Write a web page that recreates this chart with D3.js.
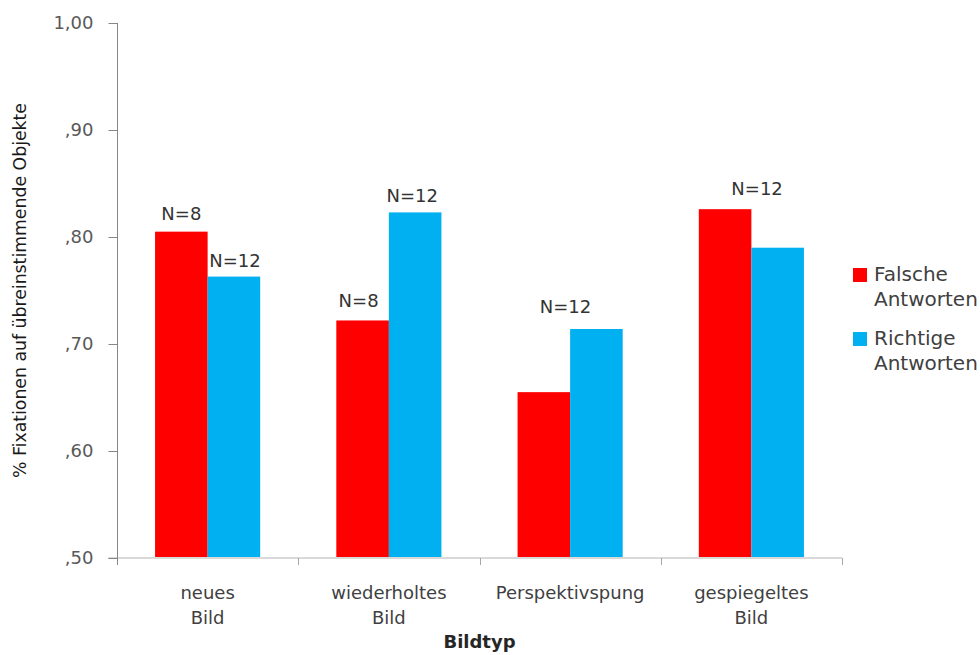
<!DOCTYPE html>
<html>
<head>
<meta charset="utf-8">
<script src="https://cdn.jsdelivr.net/npm/d3@7/dist/d3.min.js"></script>
<style>
  html, body { margin: 0; padding: 0; background: #fff; }
  svg { display: block; }
</style>
</head>
<body>
<svg id="chart" width="980" height="655"></svg>
<script>
// Bildtypen (Kategorien) und Mittelwerte je Antwortgruppe
const categories = ["neues Bild", "wiederholtes Bild", "Perspektivspung", "gespiegeltes Bild"];
const categoryLines = [["neues", "Bild"], ["wiederholtes", "Bild"], ["Perspektivspung"], ["gespiegeltes", "Bild"]];
const seriesNames = ["Falsche Antworten", "Richtige Antworten"];
const legendLines = [["Falsche", "Antworten"], ["Richtige", "Antworten"]];
const falscheValues = [0.805, 0.722, 0.655, 0.826];
const richtigeValues = [0.763, 0.823, 0.714, 0.790];
const yTicks = [0.5, 0.6, 0.7, 0.8, 0.9, 1.0];
const yTickLabels = [",50", ",60", ",70", ",80", ",90", "1,00"];
// Stichprobengrößen über den Balken
const nLabels = [
  { cat: "neues Bild", series: "Falsche Antworten", text: "N=8" },
  { cat: "neues Bild", series: "Richtige Antworten", text: "N=12" },
  { cat: "wiederholtes Bild", series: "Falsche Antworten", text: "N=8" },
  { cat: "wiederholtes Bild", series: "Richtige Antworten", text: "N=12" },
  { cat: "Perspektivspung", series: "Richtige Antworten", text: "N=12" },
  { cat: "gespiegeltes Bild", series: "Falsche Antworten", text: "N=12" }
];
const yTitle = "% Fixationen auf übreinstimmende Objekte";
const xTitle = "Bildtyp";

const colors = ["#ff0000", "#00b0f0"];
const seriesValues = [falscheValues, richtigeValues];
const rows = categories.map((c, i) => ({ cat: c, values: seriesNames.map((s, j) => ({ series: s, value: seriesValues[j][i], color: colors[j] })) }));

const svg = d3.select("#chart");
const font = "'DejaVu Sans', 'Liberation Sans', sans-serif";

const plotLeft = 117, plotRight = 842, plotTop = 23, plotBottom = 558;

const x0 = d3.scaleBand().domain(categories).range([plotLeft, plotRight]).paddingInner(0.42).paddingOuter(0.21);
const x1 = d3.scaleBand().domain(seriesNames).range([0, x0.bandwidth()]);
const y = d3.scaleLinear().domain([0.5, 1.0]).range([plotBottom, plotTop]);

// Balken
const groups = svg.append("g").selectAll("g").data(rows).join("g")
  .attr("transform", d => `translate(${x0(d.cat)},0)`);
groups.selectAll("rect").data(d => d.values).join("rect")
  .attr("x", d => x1(d.series))
  .attr("y", d => y(d.value))
  .attr("width", x1.bandwidth())
  .attr("height", d => y(0.5) - y(d.value))
  .attr("fill", d => d.color);

// Grundlinie und Kategorie-Trennstriche
svg.append("line").attr("x1", plotLeft - 9).attr("x2", plotRight).attr("y1", plotBottom).attr("y2", plotBottom)
  .attr("stroke", "#d9d9d9").attr("stroke-width", 2);
const step = x0.step();
d3.range(1, categories.length + 1).forEach(i => {
  const xx = Math.round(plotLeft + i * step) + 0.5;
  svg.append("line").attr("x1", xx).attr("x2", xx).attr("y1", plotBottom).attr("y2", plotBottom + 7)
    .attr("stroke", "#a6a6a6").attr("stroke-width", 1);
});

// Y-Achse
const yAxis = d3.axisLeft(y).tickValues(yTicks).tickFormat((d, i) => yTickLabels[i]).tickSize(9).tickPadding(15);
const yg = svg.append("g").attr("transform", `translate(${plotLeft + 0.5},0)`).call(yAxis);
yg.select(".domain").attr("stroke", "#868686").attr("d", `M0,${plotTop}V${plotBottom + 7}`);
yg.selectAll(".tick line").attr("stroke", "#868686");
yg.selectAll(".tick text").attr("font-family", font).attr("font-size", 18).attr("fill", "#595959");

// Kategorienbeschriftung
categoryLines.forEach((lines, i) => {
  const cx = x0(categories[i]) + x0.bandwidth() / 2;
  const t = svg.append("text").attr("text-anchor", "middle").attr("font-family", font)
    .attr("font-size", 18).attr("fill", "#404040");
  lines.forEach((ln, k) => t.append("tspan").attr("x", cx).attr("y", 599 + k * 25).text(ln));
});

// Achsentitel
svg.append("text").attr("x", (plotLeft + plotRight) / 2).attr("y", 648).attr("text-anchor", "middle")
  .attr("font-family", font).attr("font-size", 18).attr("font-weight", "bold").attr("fill", "#262626")
  .text(xTitle);
svg.append("text").attr("transform", "translate(26,290.5) rotate(-90)").attr("text-anchor", "middle")
  .attr("font-family", font).attr("font-size", 18).attr("fill", "#1a1a1a")
  .attr("textLength", 375).attr("lengthAdjust", "spacingAndGlyphs")
  .text(yTitle);

// N-Beschriftungen (leicht versetzt gegenüber der Balkenmitte)
const labelShift = [[0, -12], [1, -10], [-4, -13], [-3, -10], [-31, -16], [32, -14]];
nLabels.forEach((l, i) => {
  const ci = categories.indexOf(l.cat), si = seriesNames.indexOf(l.series);
  const v = seriesValues[si][ci];
  const cx = x0(l.cat) + x1(l.series) + x1.bandwidth() / 2 + labelShift[i][0];
  svg.append("text").attr("x", cx).attr("y", y(v) + labelShift[i][1]).attr("text-anchor", "middle")
    .attr("font-family", font).attr("font-size", 18).attr("fill", "#333")
    .text(l.text);
});

// Legende
seriesNames.forEach((s, i) => {
  const gy = 268 + i * 64;
  svg.append("rect").attr("x", 853).attr("y", gy).attr("width", 14).attr("height", 14).attr("fill", colors[i]);
  const t = svg.append("text").attr("font-family", font).attr("font-size", 20).attr("fill", "#404040");
  legendLines[i].forEach((ln, k) => t.append("tspan").attr("x", 874).attr("y", gy + 13 + k * 25).text(ln));
});
</script>
</body>
</html>
